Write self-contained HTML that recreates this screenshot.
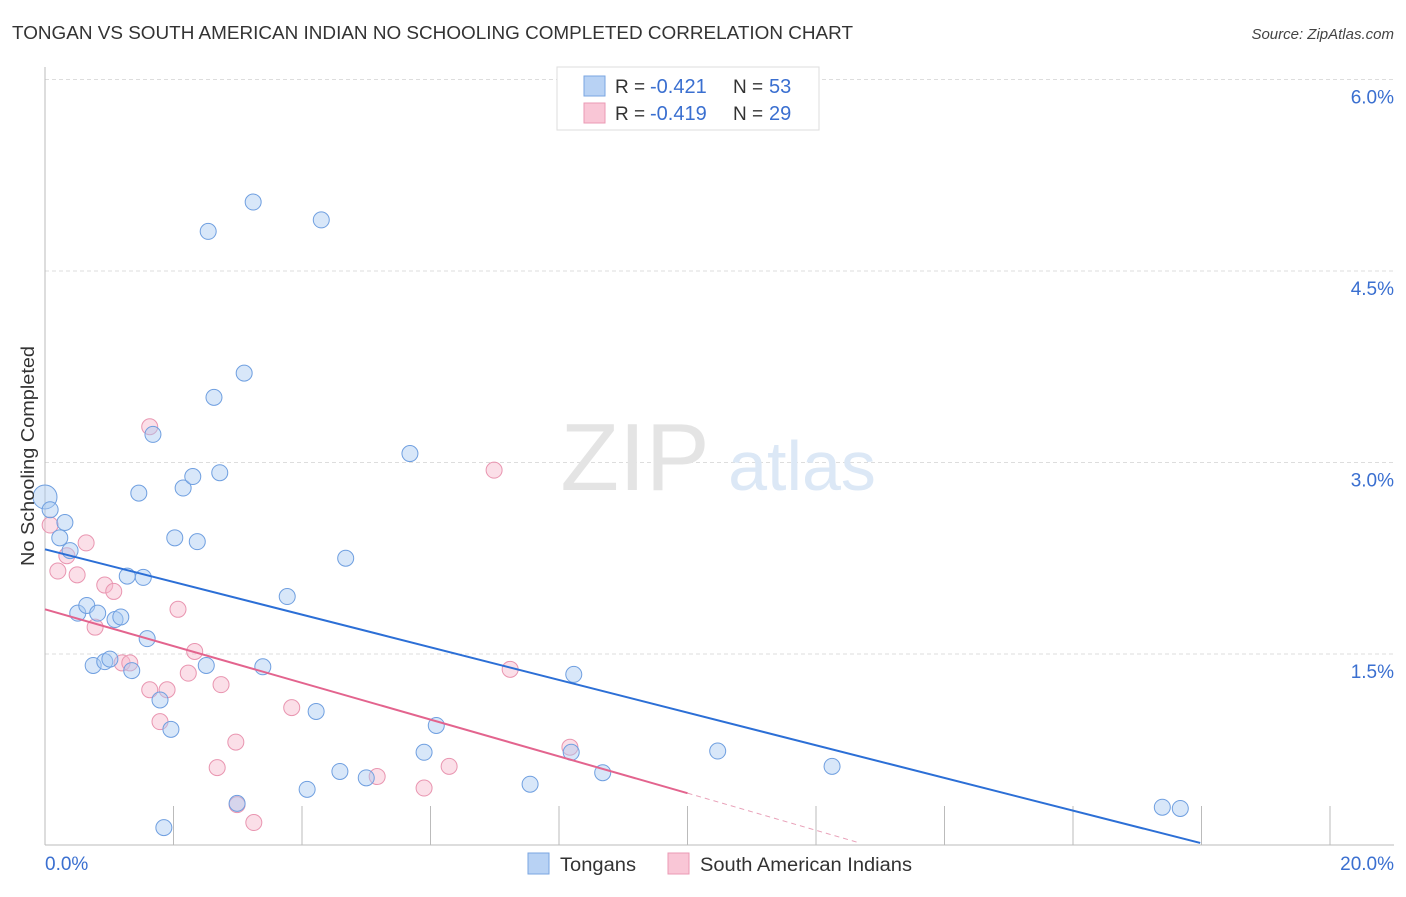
<!DOCTYPE html>
<html><head><meta charset="utf-8"><style>
body{margin:0;background:#fff;font-family:"Liberation Sans",sans-serif;}
svg text{font-family:"Liberation Sans",sans-serif;}
</style></head><body>
<svg id="chart" width="1406" height="892" viewBox="0 0 1406 892" xmlns="http://www.w3.org/2000/svg">
<text x="12" y="39" font-size="18" fill="#333" textLength="841" lengthAdjust="spacingAndGlyphs">TONGAN VS SOUTH AMERICAN INDIAN NO SCHOOLING COMPLETED CORRELATION CHART</text>
<text x="1394" y="39" font-size="15" fill="#444" font-style="italic" text-anchor="end">Source: ZipAtlas.com</text>
<g id="grid"></g>
<g>
<text x="635" y="490" font-size="96" fill="#e4e4e4" font-family="Liberation Serif" text-anchor="middle">ZIP</text>
<text x="802" y="490" font-size="70" fill="#dce8f6" text-anchor="middle">atlas</text>
</g>
<line x1="45" y1="67" x2="45" y2="845" stroke="#bbb"/>
<line x1="45" y1="845" x2="1394" y2="845" stroke="#bbb"/>
<g id="ticks"></g>
<g id="pts"></g>
<g id="lines"></g>
<text x="34" y="456" font-size="18" fill="#333" transform="rotate(-90 34 456)" text-anchor="middle" textLength="220" lengthAdjust="spacingAndGlyphs">No Schooling Completed</text>
<text x="45" y="870" font-size="19" fill="#3a6fd0">0.0%</text>
<text x="1394" y="870" font-size="19" fill="#3a6fd0" text-anchor="end">20.0%</text>
<g>
<rect x="557" y="67" width="262" height="63" fill="#fff" stroke="#ddd"/>
<rect x="584" y="76" width="21" height="20" fill="#b8d2f4" stroke="#7aa6e2"/>
<rect x="584" y="103" width="21" height="20" fill="#f9c6d6" stroke="#eb9ab4"/>
<text x="615" y="93" font-size="19" fill="#333">R =</text>
<text x="650" y="93" font-size="20" fill="#3a6fd0">-0.421</text>
<text x="733" y="93" font-size="19" fill="#333">N =</text>
<text x="769" y="93" font-size="20" fill="#3a6fd0">53</text>
<text x="615" y="120" font-size="19" fill="#333">R =</text>
<text x="650" y="120" font-size="20" fill="#3a6fd0">-0.419</text>
<text x="733" y="120" font-size="19" fill="#333">N =</text>
<text x="769" y="120" font-size="20" fill="#3a6fd0">29</text>
</g>
<g>
<rect x="528" y="853" width="21" height="21" fill="#b8d2f4" stroke="#7aa6e2"/>
<text x="560" y="871" font-size="19" fill="#333" textLength="76" lengthAdjust="spacingAndGlyphs">Tongans</text>
<rect x="668" y="853" width="21" height="21" fill="#f9c6d6" stroke="#eb9ab4"/>
<text x="700" y="871" font-size="19" fill="#333" textLength="212" lengthAdjust="spacingAndGlyphs">South American Indians</text>
</g>
</svg>
<script>
const yTicks=[1.5,3.0,4.5,6.0];
const xTicks=[2,4,6,8,10,12,14,16,18,20];
const blueX=[0,0.08,0.31,0.23,0.39,0.51,0.65,0.82,1.09,1.18,0.75,0.93,1.01,1.35,1.28,1.53,1.59,1.46,1.68,2.02,2.15,2.30,2.37,2.72,2.63,3.10,2.54,3.24,4.30,2.51,3.39,3.77,4.68,5.68,1.79,1.96,1.85,4.22,2.99,4.08,4.59,5.00,5.90,6.09,7.55,8.23,8.19,8.68,10.47,12.25,17.39,17.67];
const blueY=[2.73,2.63,2.53,2.41,2.31,1.82,1.88,1.82,1.77,1.79,1.41,1.44,1.46,1.37,2.11,2.10,1.62,2.76,3.22,2.41,2.80,2.89,2.38,2.92,3.51,3.70,4.81,5.04,4.90,1.41,1.40,1.95,2.25,3.07,1.14,0.91,0.14,1.05,0.33,0.44,0.58,0.53,0.73,0.94,0.48,1.34,0.73,0.57,0.74,0.62,0.30,0.29];
const pinkX=[0.08,0.20,0.34,0.50,0.64,0.93,1.07,0.78,1.20,1.32,1.63,1.63,1.90,2.07,1.79,2.23,2.33,2.74,2.97,2.68,2.99,3.25,3.84,5.17,5.90,6.29,6.99,7.24,8.17];
const pinkY=[2.51,2.15,2.27,2.12,2.37,2.04,1.99,1.71,1.43,1.43,3.28,1.22,1.22,1.85,0.97,1.35,1.52,1.26,0.81,0.61,0.32,0.18,1.08,0.54,0.45,0.62,2.94,1.38,0.77];
const blueTrend=[[0,2.32],[17.98,0.02]];
const pinkTrend=[[0,1.85],[10.0,0.41]];
const pinkDash=[[10.0,0.41],[12.68,0.02]];
const NS="http://www.w3.org/2000/svg";
const X=v=>45+v*64.25, Y=v=>845.5-v*127.67;
function mk(t,a,p){const e=document.createElementNS(NS,t);for(const k in a)e.setAttribute(k,a[k]);document.getElementById(p).appendChild(e);return e;}
yTicks.forEach(t=>{
 const l=mk('line',{x1:45,x2:1394,y1:Y(t),y2:Y(t),stroke:'#ddd','stroke-dasharray':'4,3'},'grid');
 
 
 const tx=mk('text',{x:1394,y:Y(t)+24,'font-size':19,fill:'#3a6fd0','text-anchor':'end'},'grid');
 tx.textContent=t.toFixed(1)+'%';
 
 
});
xTicks.forEach(t=>{
 const l=mk('line',{x1:X(t),x2:X(t),y1:806,y2:845,stroke:'#bbb'},'ticks');
 
 
});
pinkX.forEach((v,i)=>{
 const c=mk('circle',{cx:X(v),cy:Y(pinkY[i]),r:8,fill:'#f6b9cd','fill-opacity':0.45,stroke:'#e995b0','stroke-width':1},'pts');
 
 
});
blueX.forEach((v,i)=>{
 const c=mk('circle',{cx:X(v),cy:Y(blueY[i]),r:i==0?12:8,fill:'#a9c9f1','fill-opacity':0.45,stroke:'#6f9fe0','stroke-width':1},'pts');
 
 
});
const bl=mk('line',{x1:X(blueTrend[0][0]),y1:Y(blueTrend[0][1]),x2:X(blueTrend[1][0]),y2:Y(blueTrend[1][1]),stroke:'#2c6fd6','stroke-width':2},'lines');


const pl=mk('line',{x1:X(pinkTrend[0][0]),y1:Y(pinkTrend[0][1]),x2:X(pinkTrend[1][0]),y2:Y(pinkTrend[1][1]),stroke:'#e3648e','stroke-width':2},'lines');


const pd=mk('line',{x1:X(pinkDash[0][0]),y1:Y(pinkDash[0][1]),x2:X(pinkDash[1][0]),y2:Y(pinkDash[1][1]),stroke:'#e8a0b8','stroke-width':1,'stroke-dasharray':'5,4'},'lines');


</script>
</body></html>
